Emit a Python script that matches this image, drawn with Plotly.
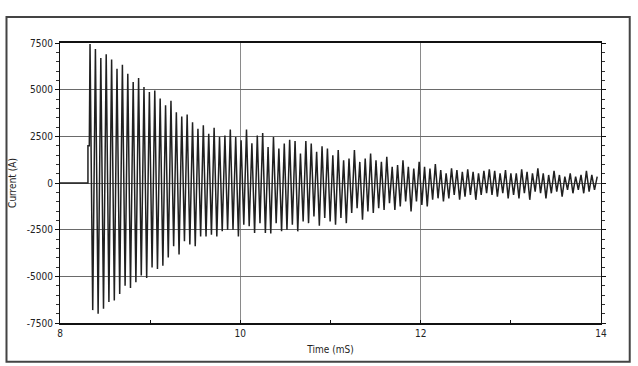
import plotly.graph_objects as go

# Lead-in before the oscillation (time in ms, current in A)
pre_time = [8.0, 8.31, 8.31, 8.325]
pre_current = [0, 0, 2000, 2000]

# Sampling of the peaks: first positive peak time and half-period
first_peak_ms = 8.333
half_period_ms = 0.02992

# Positive peaks of each cycle (A)
pos_peaks = [7450, 7180, 6690, 6900, 6610, 6120, 6330, 5850, 5410, 5620, 5140, 4880, 4960, 4520, 4170,
             4410, 3790, 3560, 3670, 3260, 2910, 3090, 2640, 2960, 2460, 2550, 2860, 2460, 2290, 2870, 2130,
             2550, 2680, 1930, 2460, 1850, 2110, 2320, 2250, 1580, 2250, 2110, 1670, 1970, 1850, 1490, 1760,
             1220, 1310, 1760, 1130, 1310, 1580, 1220, 1130, 1400, 870, 960, 1220, 870, 780, 1130, 870,
             780, 1010, 690, 520, 780, 690, 600, 730, 600, 520, 650, 730, 650, 520, 690, 520,
             520, 730, 600, 520, 780, 520, 430, 650, 430, 340, 520, 340, 430, 650, 430, 340]

# Negative peaks of each cycle (A)
neg_peaks = [-6810, -7000, -6740, -6380, -6300, -5940, -5500, -5620, -5320, -4960, -5090, -4520, -4610, -4430, -3990,
             -3390, -3830, -3120, -3300, -3390, -2860, -2860, -2770, -2860, -2590, -2500, -2500, -2860, -2230, -2320, -2680,
             -2150, -2680, -2710, -2150, -2590, -2500, -2230, -2590, -2060, -2150, -1790, -2290, -1880, -2060, -2230, -1880,
             -2150, -1610, -1350, -1970, -1530, -1610, -1350, -1440, -1080, -1440, -1260, -990, -1530, -990, -1170,
             -1260, -900, -820, -990, -820, -640, -900, -730, -640, -900, -640, -550, -640, -730, -550, -820,
             -640, -820, -550, -900, -460, -550, -820, -550, -460, -730, -370, -550, -370, -550, -460, -370]

x_ticks = [8, 10, 12, 14]
y_ticks = [-7500, -5000, -2500, 0, 2500, 5000, 7500]

# Build the alternating peak sequence
seq = []
for i in range(len(pos_peaks)):
    seq.append(pos_peaks[i])
    if i < len(neg_peaks):
        seq.append(neg_peaks[i])
times = [first_peak_ms + k * half_period_ms for k in range(len(seq))]

t_all = pre_time + times
i_all = pre_current + seq

fig = go.Figure()
fig.add_trace(go.Scatter(x=t_all, y=i_all, mode="lines",
                         line=dict(color="#202020", width=1.5), showlegend=False,
                         hoverinfo="skip"))

font_family = "Liberation Sans Narrow, Arial Narrow, DejaVu Sans Condensed, Arial, sans-serif"

fig.update_layout(
    width=638, height=366,
    margin=dict(l=55, r=37, t=43, b=42),
    paper_bgcolor="white", plot_bgcolor="white",
    font=dict(family=font_family, size=10, color="#222"),
    xaxis=dict(range=[8, 14], tickvals=x_ticks, ticktext=[str(v) for v in x_ticks],
               showgrid=True, gridcolor="#8a8a8a", gridwidth=1,
               showline=True, linecolor="#111", linewidth=1.5, mirror=True,
               ticks="inside", ticklen=0, tickcolor="#111",
               minor=dict(dtick=1, ticks="inside", ticklen=3, tickcolor="#111", showgrid=False),
               zeroline=False,
               title=dict(text="Time (mS)", standoff=8, font=dict(size=10))),
    yaxis=dict(range=[-7500, 7500], tickvals=y_ticks, ticktext=[str(v) for v in y_ticks],
               showgrid=True, gridcolor="#6a6a6a", gridwidth=1,
               showline=True, linecolor="#111", linewidth=1.2, mirror="ticks",
               ticks="outside", ticklen=4, tickcolor="#111",
               minor=dict(dtick=500, ticks="outside", ticklen=3, tickcolor="#333", showgrid=False),
               zeroline=False,
               title=dict(text="Current (A)", standoff=8, font=dict(size=10))),
    shapes=[dict(type="rect", xref="paper", yref="paper",
                 x0=-0.0989, x1=1.0531, y0=-0.1388, y1=1.0925,
                 line=dict(color="#444", width=2), layer="below")],
)

fig.write_html("out.html")
